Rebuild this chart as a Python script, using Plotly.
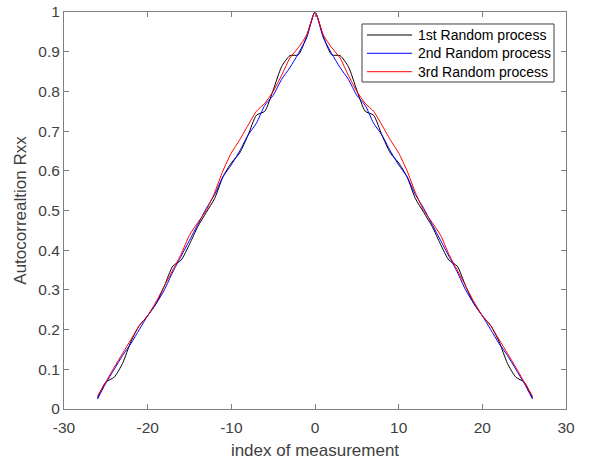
import plotly.graph_objects as go

lags = list(range(-26, 27))

black = [0.028, 0.068, 0.080, 0.115, 0.170, 0.210, 0.235, 0.265, 0.310, 0.360, 0.375, 0.415, 0.460,
         0.495, 0.530, 0.585, 0.620, 0.645, 0.690, 0.740, 0.750, 0.803, 0.862, 0.890, 0.892, 0.938,
         1.000,
         0.938, 0.892, 0.890, 0.862, 0.803, 0.750, 0.740, 0.690, 0.645, 0.620, 0.585, 0.530, 0.495,
         0.460, 0.415, 0.375, 0.360, 0.310, 0.265, 0.235, 0.210, 0.170, 0.115, 0.080, 0.068, 0.028]

blue = [0.025, 0.065, 0.100, 0.135, 0.165, 0.200, 0.235, 0.265, 0.300, 0.345, 0.385, 0.425, 0.465,
        0.505, 0.540, 0.585, 0.615, 0.650, 0.690, 0.720, 0.765, 0.790, 0.830, 0.860, 0.895, 0.935,
        1.000,
        0.935, 0.895, 0.860, 0.830, 0.790, 0.765, 0.720, 0.690, 0.650, 0.615, 0.585, 0.540, 0.505,
        0.465, 0.425, 0.385, 0.345, 0.300, 0.265, 0.235, 0.200, 0.165, 0.135, 0.100, 0.065, 0.025]

red = [0.032, 0.068, 0.105, 0.140, 0.175, 0.210, 0.235, 0.270, 0.310, 0.350, 0.390, 0.438, 0.470,
       0.500, 0.545, 0.600, 0.645, 0.678, 0.715, 0.750, 0.770, 0.800, 0.840, 0.884, 0.910, 0.942,
       1.000,
       0.942, 0.910, 0.884, 0.840, 0.800, 0.770, 0.750, 0.715, 0.678, 0.645, 0.600, 0.545, 0.500,
       0.470, 0.438, 0.390, 0.350, 0.310, 0.270, 0.235, 0.210, 0.175, 0.140, 0.105, 0.068, 0.032]

names = ["1st Random process", "2nd Random process", "3rd Random process"]
colors = ["#000000", "#0000FF", "#FF0000"]

x_ticks = [-30, -20, -10, 0, 10, 20, 30]
x_tick_labels = ["-30", "-20", "-10", "0", "10", "20", "30"]
y_ticks = [0, 0.1, 0.2, 0.3, 0.4, 0.5, 0.6, 0.7, 0.8, 0.9, 1]
y_tick_labels = ["0", "0.1", "0.2", "0.3", "0.4", "0.5", "0.6", "0.7", "0.8", "0.9", "1"]

font_family = "Liberation Sans, Arial, sans-serif"
text_color = "#404040"

fig = go.Figure()
for series, name, color in zip([black, blue, red], names, colors):
    fig.add_trace(go.Scatter(
        x=lags, y=series, mode="lines", name=name,
        line=dict(color=color, width=1, shape="spline", smoothing=0.6),
    ))

axis_common = dict(
    showline=True, linecolor="#808080", linewidth=1, mirror="ticks",
    ticks="inside", ticklen=5, tickcolor="#808080", tickwidth=1,
    showgrid=False, zeroline=False, automargin=False,
    ticklabeloverflow="allow",
    tickfont=dict(family=font_family, size=15.5, color=text_color),
)

# compact MATLAB-style legend box (drawn in paper coordinates)
legend_box = dict(type="rect", xref="paper", yref="paper",
                  x0=0.5936, x1=0.9761, y0=0.8237, y1=0.9698,
                  line=dict(color="#404040", width=1), fillcolor="white", layer="above")
row_y = [0.9421, 0.8960, 0.8496]
shapes = [legend_box]
annotations = []
for name, color, yy in zip(names, colors, row_y):
    shapes.append(dict(type="line", xref="paper", yref="paper",
                       x0=0.6036, x1=0.6932, y0=yy, y1=yy,
                       line=dict(color=color, width=1), layer="above"))
    annotations.append(dict(xref="paper", yref="paper", x=0.7012, y=yy,
                            xanchor="left", yanchor="middle", showarrow=False,
                            text=name, font=dict(family=font_family, size=14, color="#000000")))

fig.update_layout(
    width=589, height=463,
    margin=dict(l=64, r=23, t=12, b=54),
    paper_bgcolor="white", plot_bgcolor="white",
    font=dict(family=font_family, color=text_color),
    xaxis=dict(range=[-30, 30], tickvals=x_ticks, ticktext=x_tick_labels,
               ticklabelstandoff=4,
               title=dict(text="index of measurement", standoff=9,
                          font=dict(size=17, family=font_family, color=text_color)),
               **axis_common),
    yaxis=dict(range=[0, 1], tickvals=y_ticks, ticktext=y_tick_labels,
               title=dict(text="Autocorrealtion Rxx", standoff=7,
                          font=dict(size=17, family=font_family, color=text_color)),
               **axis_common),
    shapes=shapes,
    annotations=annotations,
    showlegend=False,
)

fig.write_html("out.html", config={"displayModeBar": False},
               post_script="document.body.style.margin='0';")
